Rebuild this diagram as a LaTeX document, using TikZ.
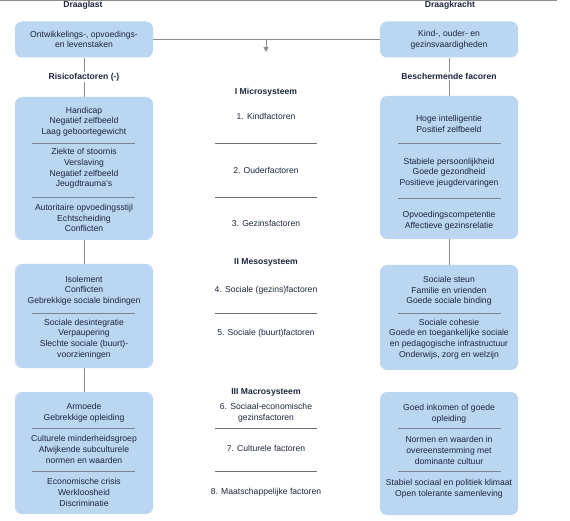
\documentclass[tikz,border=0pt]{standalone}
\usepackage{fontspec}
\setmainfont{Liberation Sans}
\usetikzlibrary{arrows.meta}
\definecolor{boxblue}{RGB}{187,214,240}
\definecolor{txt}{RGB}{28,38,62}
\definecolor{conn}{RGB}{140,140,140}
\definecolor{sep}{RGB}{120,132,148}
\tikzset{
  box/.style={fill=boxblue, draw=none, rounded corners=7pt, minimum width=138pt, inner sep=0pt},
  grp/.style={align=center, text=txt, font=\fontsize{8.6}{10.6}\selectfont, inner sep=0pt},
  head/.style={text=txt, font=\bfseries\fontsize{8.6}{10.6}\selectfont, inner sep=1pt},
  conline/.style={draw=conn, line width=0.8pt},
  sepline/.style={draw=sep, line width=0.8pt},
  midsep/.style={draw=conn!80!black, line width=0.8pt}
}
\begin{document}
\begin{tikzpicture}[x=1pt,y=-1pt]
\useasboundingbox (0,0) rectangle (570,521);
% top rule
\coordinate (tl) at (0,0.8);
\coordinate (tr) at (557,0.8);
\draw[conline] (tl) -- (tr);
% headings
\node[head] (hl) at (83,5.5) {Draaglast};
\node[head] (hr) at (450,5.5) {Draagkracht};
% top boxes
\node[box, minimum height=36pt] (L0) at (84,39.5) {};
\node[grp] at (L0.center) {Ontwikkelings-, opvoedings-\\en levenstaken};
\node[box, minimum height=36pt] (R0) at (449,39.5) {};
\node[grp] at (R0.center) {Kind-, ouder- en\\gezinsvaardigheden};
\draw[conline] (L0.east) -- (R0.west);
\coordinate (ar0) at (266,39.5);
\coordinate (ar1) at (266,52);
\draw[conline, -{Triangle[length=5pt,width=5pt]}] (ar0) -- (ar1);
% labels
\node[head] (rl) at (84,77) {Risicofactoren (-)};
\node[head] (rr) at (449,76) {Beschermende facoren};
% left boxes
\node[box, minimum height=143pt] (L1) at (84,168.5) {};
\node[box, minimum height=104pt] (L2) at (84,316) {};
\node[box, minimum height=122pt] (L3) at (84,453) {};
% right boxes
\node[box, minimum height=143pt] (R1) at (449,167.5) {};
\node[box, minimum height=105pt] (R2) at (449,317.5) {};
\node[box, minimum height=123pt] (R3) at (449,453.5) {};
% connectors
\draw[conline] (L0.south) -- (rl.north);
\draw[conline] (rl.south) -- (L1.north);
\draw[conline] (L1.south) -- (L2.north);
\draw[conline] (L2.south) -- (L3.north);
\draw[conline] (R0.south) -- (rr.north);
\draw[conline] (rr.south) -- (R1.north);
\draw[conline] (R1.south) -- (R2.north);
% left box texts
\node[grp] at (84,121.5) {Handicap\\Negatief zelfbeeld\\Laag geboortegewicht};
\draw[sepline] (32,143) -- (135,143);
\node[grp] at (84,168.5) {Ziekte of stoornis\\Verslaving\\Negatief zelfbeeld\\Jeugdtrauma's};
\draw[sepline] (32,197) -- (135,197);
\node[grp] at (84,218) {Autoritaire opvoedingsstijl\\Echtscheiding\\Conflicten};
\node[grp] at (84,290.5) {Isolement\\Conflicten\\Gebrekkige sociale bindingen};
\draw[sepline] (32,313) -- (135,313);
\node[grp] at (84,339) {Sociale desintegratie\\Verpaupering\\Slechte sociale (buurt)-\\voorzieningen};
\node[grp] at (84,412.5) {Armoede\\Gebrekkige opleiding};
\draw[sepline] (32,428) -- (135,428);
\node[grp] at (84,449.5) {Culturele minderheidsgroep\\Afwijkende subculturele\\normen en waarden};
\draw[sepline] (32,471) -- (135,471);
\node[grp] at (84,492.5) {Economische crisis\\Werkloosheid\\Discriminatie};
% right box texts
\node[grp] at (449,124) {Hoge intelligentie\\Positief zelfbeeld};
\draw[sepline] (398,143) -- (501,143);
\node[grp] at (449,172.5) {Stabiele persoonlijkheid\\Goede gezondheid\\Positieve jeugdervaringen};
\draw[sepline] (398,198) -- (501,198);
\node[grp] at (449,220.5) {Opvoedingscompetentie\\Affectieve gezinsrelatie};
\node[grp] at (449,291) {Sociale steun\\Familie en vrienden\\Goede sociale binding};
\draw[sepline] (398,313) -- (501,313);
\node[grp] at (449,339) {Sociale cohesie\\Goede en toegankelijke sociale\\en pedagogische infrastructuur\\Onderwijs, zorg en welzijn};
\node[grp] at (449,414) {Goed inkomen of goede\\opleiding};
\draw[sepline] (398,428) -- (501,428);
\node[grp] at (449,450.5) {Normen en waarden in\\overeenstemming met\\dominante cultuur};
\draw[sepline] (398,471) -- (501,471);
\node[grp] at (449,488.5) {Stabiel sociaal en politiek klimaat\\Open tolerante samenleving};
% centre column
\node[head] (m1) at (266,92) {I Microsysteem};
\node[grp] (c1) at (266,116) {1. Kindfactoren};
\draw[midsep] (215,143) -- (317,143);
\node[grp] (c2) at (266,170) {2. Ouderfactoren};
\draw[midsep] (215,197) -- (317,197);
\node[grp] (c3) at (266,223) {3. Gezinsfactoren};
\node[head] (m2) at (266,262) {II Mesosysteem};
\node[grp] (c4) at (266,290) {4. Sociale (gezins)factoren};
\draw[midsep] (215,313) -- (317,313);
\node[grp] (c5) at (266,333) {5. Sociale (buurt)factoren};
\node[head] (m3) at (266,392) {III Macrosysteem};
\node[grp] (c6) at (266,412.5) {6. Sociaal-economische\\gezinsfactoren};
\draw[midsep] (215,428) -- (317,428);
\node[grp] (c7) at (266,448) {7. Culturele factoren};
\draw[midsep] (215,471) -- (317,471);
\node[grp] (c8) at (266,492) {8. Maatschappelijke factoren};
\end{tikzpicture}
\end{document}
